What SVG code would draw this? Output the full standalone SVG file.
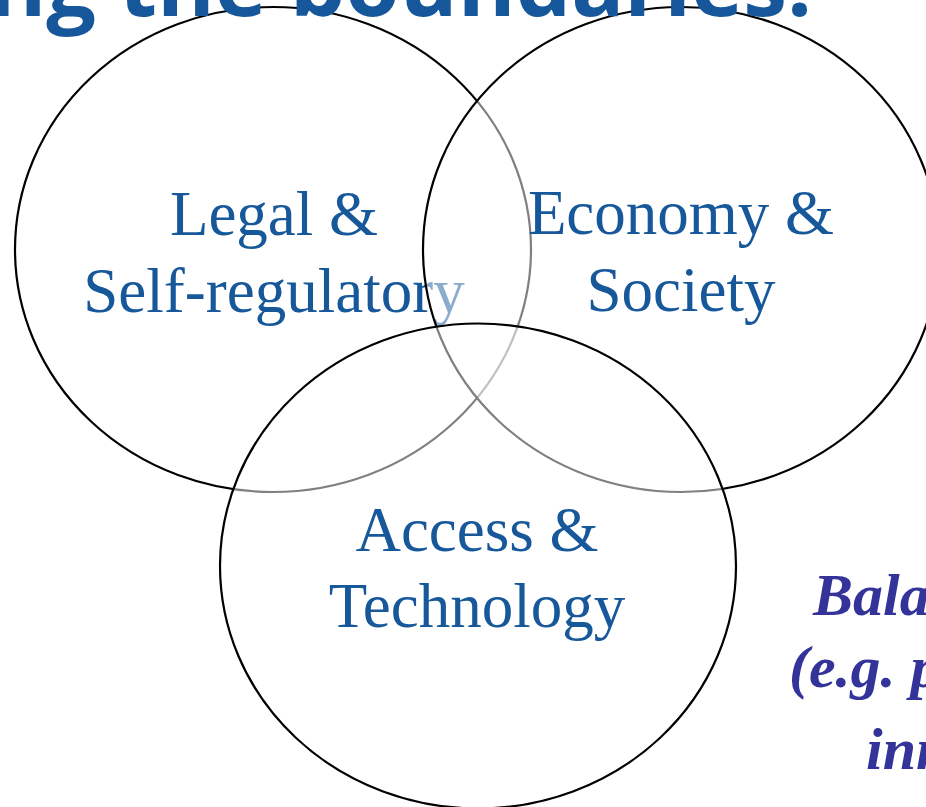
<svg xmlns="http://www.w3.org/2000/svg" width="926" height="807" viewBox="0 0 926 807">
<style>
.ring{fill:#ffffff;fill-opacity:0.5;stroke:#000000;stroke-width:2.2}
.lbl{font-family:"Liberation Serif","Times New Roman",serif;font-size:63px;fill:#17589B;text-anchor:middle}
.note{font-family:"Liberation Serif","Times New Roman",serif;font-size:60px;font-weight:bold;font-style:italic;fill:#333399}
.title{font-family:"Open Sans","Noto Sans",sans-serif;font-size:88px;font-weight:bold;fill:#15579A}
</style>
<rect width="926" height="807" fill="#ffffff"/>
<g id="legal">
<ellipse class="ring" cx="273" cy="249.5" rx="258" ry="242.5"/>
<text class="lbl" x="274" y="235">Legal &amp;</text>
<text class="lbl" x="274" y="312">Self-regulatory</text>
</g>
<g id="economy">
<ellipse class="ring" cx="681" cy="249.5" rx="258" ry="242.5"/>
<text class="lbl" x="681" y="234">Economy &amp;</text>
<text class="lbl" x="681" y="311">Society</text>
</g>
<g id="access">
<ellipse class="ring" cx="478" cy="566" rx="258" ry="242.5"/>
<text class="lbl" x="477" y="551">Access &amp;</text>
<text class="lbl" x="477" y="627">Technology</text>
</g>
<g id="note">
<text class="note" x="813" y="615">Balance</text>
<text class="note" x="789" y="687">(e.g. privacy</text>
<text class="note" x="866" y="769">innovation</text>
</g>
<g id="title">
<text class="title" x="812" y="16" text-anchor="end">ng the boundaries:</text>
</g>
</svg>
